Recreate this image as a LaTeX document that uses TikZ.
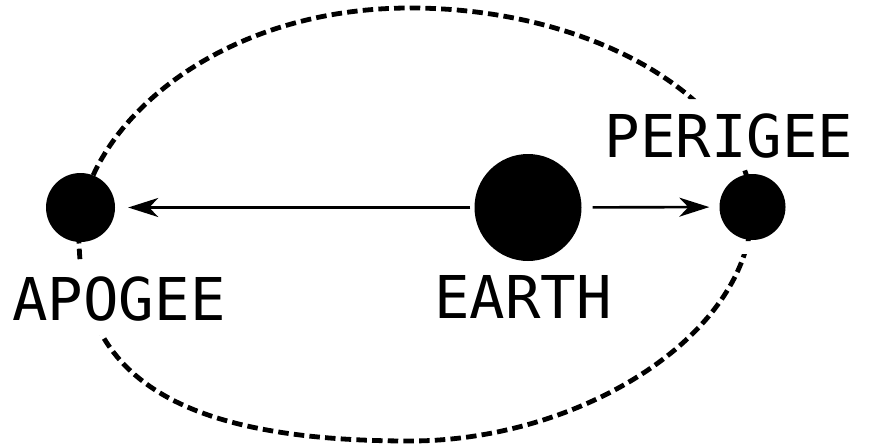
\documentclass[tikz,border=0pt]{standalone}
\usepackage{fontspec}
\newfontfamily\labelfont{DejaVu Sans Mono}
\usetikzlibrary{arrows.meta}
\begin{document}
\begin{tikzpicture}[x=1pt,y=-1pt,
  orbit/.style={line width=4.8pt, dash pattern=on 10.5pt off 5.2pt},
  body/.style={circle, fill=black, inner sep=0pt},
  lbl/.style={anchor=base, inner sep=0pt, font=\labelfont\fontsize{59}{59}\selectfont},
  ray/.style={line width=2.6pt, -{Stealth[length=30pt,width=19pt,inset=9pt]}}]
\useasboundingbox (0,0) rectangle (874,447);
\fill[white] (0,0) rectangle (874,447);
% orbit, interrupted where the labels and bodies sit
\begin{scope}[even odd rule]
\clip (0,0) rectangle (874,447)
  (0,260) rectangle (250,335)
  (600,99) rectangle (874,167)
  (700,241) rectangle (874,254);
\draw[orbit] (79,236) .. controls (79,133) and (211,8) .. (410,8)
  .. controls (600,8) and (750,105) .. (752,208)
  .. controls (752,335) and (580,441) .. (410,441)
  .. controls (170,441) and (79,372) .. cycle;
\end{scope}
% bodies
\node[body, minimum size=69pt] (apogee) at (80.5,207.5) {};
\node[body, minimum size=107pt] (earth) at (528,207.5) {};
\node[body, minimum size=66pt] (perigee) at (752.5,207) {};
% arrows
\draw[ray, shorten <=4pt, shorten >=13pt] (earth) -- (apogee);
\draw[ray, shorten <=11pt, shorten >=10pt] (earth) -- (perigee);
% labels
\node[lbl] (tapogee) at (119,320) {APOGEE};
\node[lbl] (tearth) at (523,318) {EARTH};
\node[lbl] (tperigee) at (729,157) {PERIGEE};
\end{tikzpicture}
\end{document}
